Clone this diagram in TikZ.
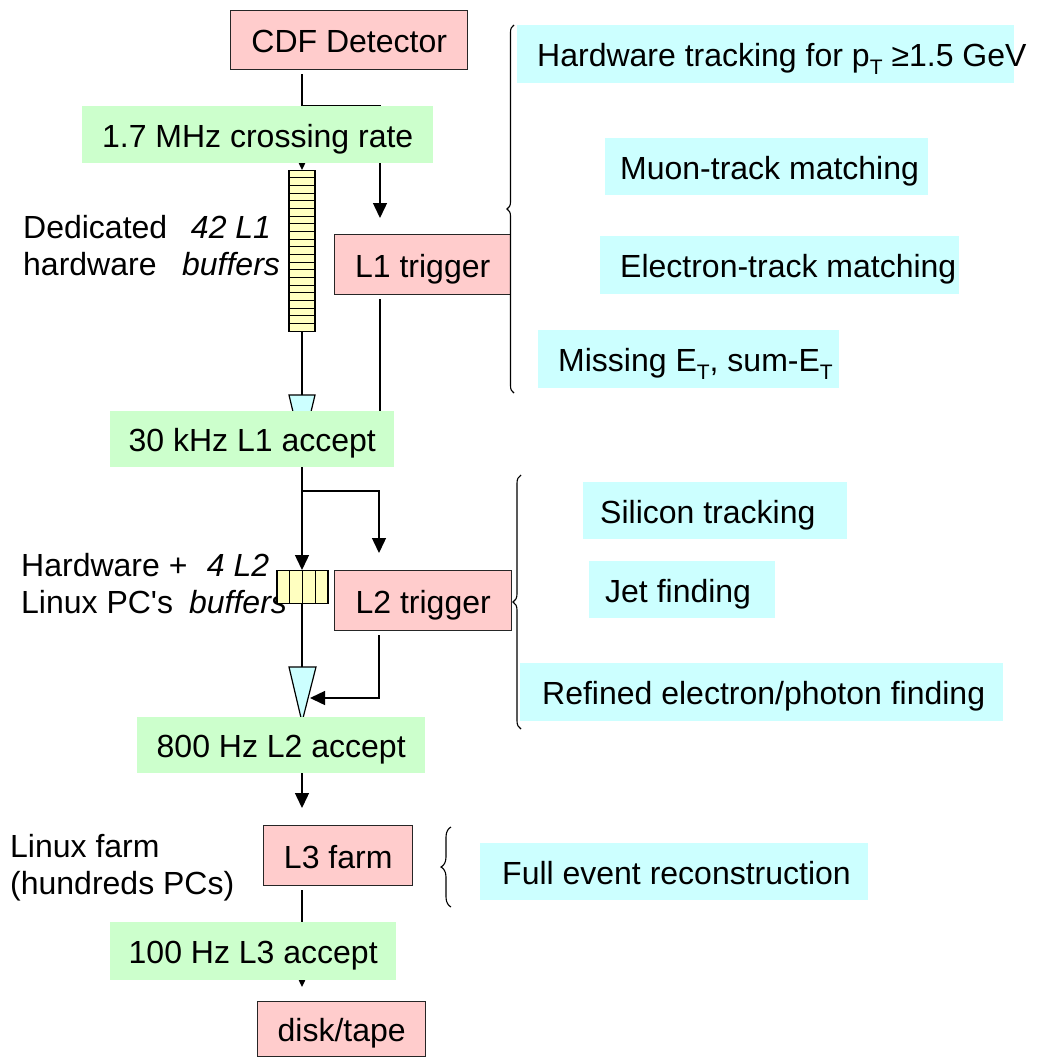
\documentclass[tikz,border=0pt]{standalone}
\usepackage{fontspec}
\setmainfont{Liberation Sans}
\usetikzlibrary{arrows.meta,decorations.pathreplacing,calc}
\definecolor{pinkc}{HTML}{FFCCCC}
\definecolor{greenc}{HTML}{CCFFCC}
\definecolor{cyanc}{HTML}{CCFFFF}
\definecolor{yelc}{HTML}{FFFFC0}
\newcommand{\lowT}{\raisebox{-0.25em}[0pt][0pt]{\fontsize{21}{21}\selectfont T}}
\pgfdeclarelayer{bg}
\pgfsetlayers{bg,main}
\begin{document}
\begin{tikzpicture}[x=1pt,y=-1pt,
  every node/.style={font=\fontsize{32}{37}\selectfont},
  txt/.style={text height=25pt, text depth=0pt},
  pinkbox/.style={txt, draw=black!85, line width=1.4pt, fill=pinkc, anchor=north west, inner sep=0pt},
  greenbox/.style={txt, fill=greenc, anchor=north west, inner sep=0pt},
  cyanbox/.style={txt, fill=cyanc, anchor=north west, inner sep=0pt},
  lab/.style={inner sep=0pt},
  itlab/.style={inner sep=0pt, align=center, font=\fontsize{32}{37}\selectfont\itshape},
  conn/.style={line width=1.4pt},
  tip/.style={-{Triangle[length=15pt,width=14pt]}},
  buf/.style={draw, line width=1.2pt, fill=yelc, inner sep=0pt},
  brc/.style={draw, line width=1.1pt, decorate},
  shp/.style={fill=cyanc, draw=black, line width=1.2pt},
]
\useasboundingbox (0,0) rectangle (1046,1058);

% left labels
\node[lab, anchor=west, align=left] (dedl) at (23,246) {Dedicated\\hardware};
\node[itlab] (l1bufl) at (231,246) {42 L1\\buffers};
\node[lab, anchor=west, align=left] (hwl) at (21,584) {Hardware +\\Linux PC\textquotesingle s};
\node[itlab] (l2bufl) at (238,584) {4 L2\\buffers};
\node[lab, anchor=west, align=left] (farml) at (10,868) {Linux farm\\(hundreds PCs)};

% main chain
\node[pinkbox, minimum width=237pt, minimum height=59pt] (cdf) at (230,10) {CDF Detector};
\node[greenbox, minimum width=351pt, minimum height=57pt] (rate1) at (82,106) {1.7 MHz crossing rate};
\node[pinkbox, minimum width=176pt, minimum height=60pt] (l1) at (334,234) {L1 trigger};
\node[greenbox, minimum width=284pt, minimum height=56pt] (acc1) at (110,411) {30 kHz L1 accept};
\node[pinkbox, minimum width=177pt, minimum height=60pt] (l2) at (334,570) {L2 trigger};
\node[greenbox, minimum width=288pt, minimum height=56pt] (acc2) at (137,717) {800 Hz L2 accept};
\node[pinkbox, minimum width=149pt, minimum height=60pt] (l3) at (263,825) {L3 farm};
\node[greenbox, minimum width=286pt, minimum height=58pt] (acc3) at (110,922) {100 Hz L3 accept};
\node[pinkbox, minimum width=168pt, minimum height=55pt] (disk) at (257,1001) {disk/tape};

% cyan boxes
\node[cyanbox, minimum height=58pt] (hw) at (517,25) {\makebox[497pt][l]{\hspace{20pt}Hardware tracking for p\lowT{} ≥1.5 GeV}};
\node[cyanbox, minimum height=57pt] (muon) at (605,138) {\makebox[323pt][l]{\hspace{15pt}Muon-track matching}};
\node[cyanbox, minimum height=58pt] (elec) at (600,236) {\makebox[359pt][l]{\hspace{20pt}Electron-track matching}};
\node[cyanbox, minimum height=58pt] (miss) at (538,330) {\makebox[301pt][l]{\hspace{20pt}Missing E\lowT, sum-E\lowT}};
\node[cyanbox, minimum height=57pt] (sil) at (583,482) {\makebox[264pt][l]{\hspace{17pt}Silicon tracking}};
\node[cyanbox, minimum height=57pt] (jet) at (589,561) {\makebox[186pt][l]{\hspace{16pt}Jet finding}};
\node[cyanbox, minimum height=58pt] (ref) at (520,663) {\makebox[483pt][l]{\hspace{22pt}Refined electron/photon finding}};
\node[cyanbox, minimum height=57pt] (full) at (480,843) {\makebox[388pt][l]{\hspace{22pt}Full event reconstruction}};

% buffers
\node[buf, minimum width=26pt, minimum height=161pt, anchor=north] (buf1) at (302,170) {};
\foreach \k in {1,...,20} \draw[line width=1pt] (289,{170+7.667*\k}) -- (315,{170+7.667*\k});
\node[buf, minimum width=51pt, minimum height=33pt, anchor=north] (buf2) at (302.5,570) {};
\foreach \xx in {289.5,302.3,315.5} \draw[line width=1.2pt] (\xx,570) -- (\xx,603);

% reference coordinates
\coordinate (mainx) at (302,0);
\coordinate (l1x) at (380,0);
\coordinate (l2x) at (379,0);
\coordinate (br2) at (302,491);
\coordinate (tri2r) at (310,698);

\begin{pgfonlayer}{bg}
\draw[conn,tip,shorten <=4pt] (mainx |- cdf.south) -- (buf1.north);
\draw[conn,tip,shorten >=16pt] (mainx |- rate1.north) -| (l1x |- l1.north);
\draw[conn] (buf1.south) -- (mainx |- acc1.north);
\filldraw[shp] (289,395) -- (315,395) -- (310,416) -- (294,416) -- cycle;
\draw[conn,shorten <=4pt] (l1x |- l1.south) -- (l1x |- acc1.north);
\draw[conn,tip] (mainx |- acc1.south) -- (mainx |- buf2.north);
\draw[conn,tip,shorten >=17pt] (br2) -| (l2x |- l2.north);
\draw[conn] (mainx |- buf2.south) -- (mainx |- acc2.north);
\filldraw[shp] (289,667) -- (316,667) -- (302,722) -- cycle;
\draw[conn,tip,shorten <=4pt] (l2x |- l2.south) |- (tri2r);
\draw[conn,tip,shorten >=17pt] (mainx |- acc2.south) -- (mainx |- l3.north);
\draw[conn,shorten <=4pt] (mainx |- l3.south) -- (mainx |- acc3.north);
\draw[conn,tip,shorten >=14pt] (mainx |- acc3.north) -- (mainx |- disk.north);
\end{pgfonlayer}

% braces
\draw[brc, decoration={brace, amplitude=7pt}] (514,393) -- (514,25);
\draw[brc, decoration={brace, amplitude=8pt}] (521,729) -- (521,475);
\draw[brc, decoration={brace, amplitude=10pt}] (451,907) -- (451,827);
\end{tikzpicture}
\end{document}
